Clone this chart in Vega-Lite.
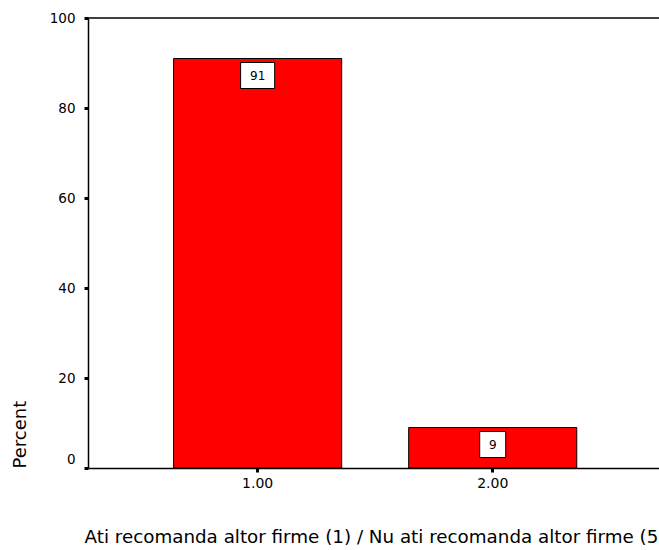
{
  "$schema": "https://vega.github.io/schema/vega-lite/v6.json",
  "width": 571,
  "height": 450,
  "autosize": {"type": "none"},
  "padding": {"left": 88, "top": 18, "right": 0, "bottom": 82},
  "background": "white",
  "config": {
    "view": {"stroke": null},
    "axis": {
      "domainColor": "#000000",
      "domainWidth": 1.5,
      "tickColor": "#000000",
      "labelColor": "#000000",
      "titleColor": "#000000",
      "labelFont": "DejaVu Sans",
      "titleFont": "DejaVu Sans",
      "titleFontWeight": "normal",
      "grid": false
    }
  },
  "data": {"values": [
    {"category": "1.00", "percent": 91},
    {"category": "2.00", "percent": 9}
  ]},
  "layer": [
    {
      "mark": {"type": "bar", "fill": "#ff0000", "stroke": "#000000", "strokeWidth": 1},
      "encoding": {
        "x": {
          "field": "category", "type": "nominal",
          "scale": {"paddingInner": 0.285, "paddingOuter": 0.357, "align": 0.51},
          "axis": {
            "title": "Ati recomanda altor firme (1) / Nu ati recomanda altor firme (5)",
            "labelAngle": 0,
            "labelFontSize": 14,
            "tickSize": 4,
            "tickWidth": 3,
            "labelPadding": 4,
            "titleFontSize": 18.3,
            "titleX": 286.5,
            "titleY": 74,
            "titleAlign": "center",
            "titleBaseline": "alphabetic"
          }
        },
        "y": {
          "field": "percent", "type": "quantitative",
          "scale": {"domain": [0, 100], "nice": false},
          "axis": {
            "title": "Percent",
            "values": [0, 20, 40, 60, 80, 100],
            "labelFontSize": 13.5,
            "tickSize": 4,
            "tickWidth": 3,
            "labelPadding": 9,
            "labelOffset": {"condition": {"test": "datum.value === 0", "value": -9}, "value": 0},
            "titleFontSize": 18,
            "titleX": -63,
            "titleY": 450,
            "titleAngle": 270,
            "titleAlign": "left",
            "titleBaseline": "alphabetic"
          }
        }
      }
    },
    {
      "data": {"values": [{"top": 100}]},
      "mark": {"type": "rule", "stroke": "#000000", "strokeWidth": 1.5},
      "encoding": {"y": {"field": "top", "type": "quantitative"}}
    },
    {
      "mark": {"type": "point", "filled": true, "fill": "#ffffff", "stroke": "#000000", "strokeWidth": 1, "size": 676, "opacity": 1, "yOffset": 17},
      "encoding": {
        "x": {"field": "category", "type": "nominal"},
        "y": {"field": "percent", "type": "quantitative"},
        "shape": {
          "field": "category", "type": "nominal",
          "scale": {"domain": ["1.00", "2.00"], "range": ["M-1.31,-1L1.31,-1L1.31,1L-1.31,1Z", "M-1,-1L1,-1L1,1L-1,1Z"]},
          "legend": null
        }
      }
    },
    {
      "mark": {"type": "text", "font": "DejaVu Sans", "fontSize": 12, "color": "#000000", "align": "center", "baseline": "middle", "yOffset": 17},
      "encoding": {
        "x": {"field": "category", "type": "nominal"},
        "y": {"field": "percent", "type": "quantitative"},
        "text": {"field": "percent", "type": "quantitative"}
      }
    }
  ]
}
